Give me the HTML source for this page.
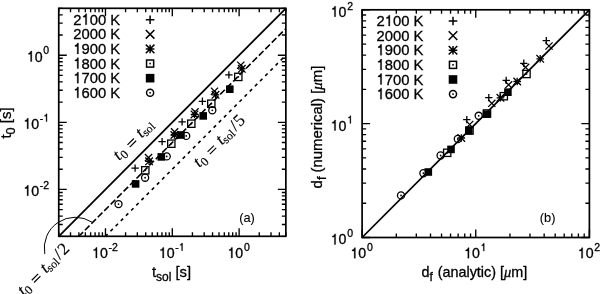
<!DOCTYPE html><html><head><meta charset="utf-8"><style>html,body{margin:0;padding:0;background:#fff;width:600px;height:294px;overflow:hidden}svg{display:block;will-change:transform}text{fill:#000;stroke:#000;stroke-width:0.3px}.one path{fill:#000;stroke:#000;stroke-width:0.3px;vector-effect:non-scaling-stroke}.ann text{stroke-width:0.15px}</style></head><body><svg width="600" height="294" viewBox="0 0 600 294" font-family="Liberation Sans, sans-serif">
<rect width="600" height="294" fill="#fff"/>
<line x1="58.75" y1="236.30" x2="285.85" y2="8.30" stroke="#000" stroke-width="1.75"/>
<line x1="78.87" y1="236.30" x2="285.85" y2="28.50" stroke="#000" stroke-width="1.6" stroke-dasharray="6.5 2.63" stroke-dashoffset="0.56"/>
<line x1="105.47" y1="236.30" x2="285.85" y2="55.20" stroke="#000" stroke-width="1.6" stroke-dasharray="3.3 4.01" stroke-dashoffset="0.2"/>
<line x1="362.10" y1="237.50" x2="589.40" y2="9.80" stroke="#000" stroke-width="1.75"/>
<path d="M131.40 168.10h7.4M135.10 164.40v7.4" stroke="#000" stroke-width="1.3" fill="none"/>
<path d="M158.40 141.60h7.4M162.10 137.90v7.4" stroke="#000" stroke-width="1.3" fill="none"/>
<path d="M178.40 121.90h7.4M182.10 118.20v7.4" stroke="#000" stroke-width="1.3" fill="none"/>
<path d="M198.70 101.30h7.4M202.40 97.60v7.4" stroke="#000" stroke-width="1.3" fill="none"/>
<path d="M225.20 74.90h7.4M228.90 71.20v7.4" stroke="#000" stroke-width="1.3" fill="none"/>
<path d="M144.90 154.00l7.2 7.2M144.90 161.20l7.2 -7.2" stroke="#000" stroke-width="1.3" fill="none"/>
<path d="M171.00 128.30l7.2 7.2M171.00 135.50l7.2 -7.2" stroke="#000" stroke-width="1.3" fill="none"/>
<path d="M191.40 108.20l7.2 7.2M191.40 115.40l7.2 -7.2" stroke="#000" stroke-width="1.3" fill="none"/>
<path d="M210.90 87.60l7.2 7.2M210.90 94.80l7.2 -7.2" stroke="#000" stroke-width="1.3" fill="none"/>
<path d="M237.20 61.60l7.2 7.2M237.20 68.80l7.2 -7.2" stroke="#000" stroke-width="1.3" fill="none"/>
<path d="M145.30 161.30h7.6M149.10 157.50v7.6M145.30 157.50l7.6 7.6M145.30 165.10l7.6 -7.6" stroke="#000" stroke-width="1.3" fill="none"/>
<path d="M170.60 135.00h7.6M174.40 131.20v7.6M170.60 131.20l7.6 7.6M170.60 138.80l7.6 -7.6" stroke="#000" stroke-width="1.3" fill="none"/>
<path d="M190.70 114.40h7.6M194.50 110.60v7.6M190.70 110.60l7.6 7.6M190.70 118.20l7.6 -7.6" stroke="#000" stroke-width="1.3" fill="none"/>
<path d="M211.70 94.80h7.6M215.50 91.00v7.6M211.70 91.00l7.6 7.6M211.70 98.60l7.6 -7.6" stroke="#000" stroke-width="1.3" fill="none"/>
<path d="M238.00 68.80h7.6M241.80 65.00v7.6M238.00 65.00l7.6 7.6M238.00 72.60l7.6 -7.6" stroke="#000" stroke-width="1.3" fill="none"/>
<rect x="141.65" y="166.65" width="7.30" height="7.30" fill="none" stroke="#000" stroke-width="1.3"/><rect x="144.50" y="169.50" width="1.6" height="1.6" fill="#000"/>
<rect x="167.65" y="140.05" width="7.30" height="7.30" fill="none" stroke="#000" stroke-width="1.3"/><rect x="170.50" y="142.90" width="1.6" height="1.6" fill="#000"/>
<rect x="187.65" y="120.05" width="7.30" height="7.30" fill="none" stroke="#000" stroke-width="1.3"/><rect x="190.50" y="122.90" width="1.6" height="1.6" fill="#000"/>
<rect x="207.65" y="100.05" width="7.30" height="7.30" fill="none" stroke="#000" stroke-width="1.3"/><rect x="210.50" y="102.90" width="1.6" height="1.6" fill="#000"/>
<rect x="234.65" y="73.25" width="7.30" height="7.30" fill="none" stroke="#000" stroke-width="1.3"/><rect x="237.50" y="76.10" width="1.6" height="1.6" fill="#000"/>
<rect x="131.80" y="180.10" width="7.60" height="7.60" fill="#000"/>
<rect x="157.50" y="153.10" width="7.60" height="7.60" fill="#000"/>
<rect x="177.20" y="131.20" width="7.60" height="7.60" fill="#000"/>
<rect x="199.40" y="112.10" width="7.60" height="7.60" fill="#000"/>
<rect x="226.00" y="85.40" width="7.60" height="7.60" fill="#000"/>
<circle cx="118.50" cy="204.10" r="3.55" fill="none" stroke="#000" stroke-width="1.3"/><circle cx="118.50" cy="204.10" r="0.9" fill="#000"/>
<circle cx="145.10" cy="177.70" r="3.55" fill="none" stroke="#000" stroke-width="1.3"/><circle cx="145.10" cy="177.70" r="0.9" fill="#000"/>
<circle cx="166.70" cy="156.40" r="3.55" fill="none" stroke="#000" stroke-width="1.3"/><circle cx="166.70" cy="156.40" r="0.9" fill="#000"/>
<circle cx="186.20" cy="135.90" r="3.55" fill="none" stroke="#000" stroke-width="1.3"/><circle cx="186.20" cy="135.90" r="0.9" fill="#000"/>
<circle cx="212.30" cy="110.30" r="3.55" fill="none" stroke="#000" stroke-width="1.3"/><circle cx="212.30" cy="110.30" r="0.9" fill="#000"/>
<path d="M463.10 119.60h7.4M466.80 115.90v7.4" stroke="#000" stroke-width="1.3" fill="none"/>
<path d="M485.10 97.60h7.4M488.80 93.90v7.4" stroke="#000" stroke-width="1.3" fill="none"/>
<path d="M502.50 80.40h7.4M506.20 76.70v7.4" stroke="#000" stroke-width="1.3" fill="none"/>
<path d="M520.10 63.30h7.4M523.80 59.60v7.4" stroke="#000" stroke-width="1.3" fill="none"/>
<path d="M542.60 40.70h7.4M546.30 37.00v7.4" stroke="#000" stroke-width="1.3" fill="none"/>
<path d="M466.10 120.90l7.2 7.2M466.10 128.10l7.2 -7.2" stroke="#000" stroke-width="1.3" fill="none"/>
<path d="M488.20 99.70l7.2 7.2M488.20 106.90l7.2 -7.2" stroke="#000" stroke-width="1.3" fill="none"/>
<path d="M505.00 81.20l7.2 7.2M505.00 88.40l7.2 -7.2" stroke="#000" stroke-width="1.3" fill="none"/>
<path d="M522.00 63.70l7.2 7.2M522.00 70.90l7.2 -7.2" stroke="#000" stroke-width="1.3" fill="none"/>
<path d="M545.40 42.40l7.2 7.2M545.40 49.60l7.2 -7.2" stroke="#000" stroke-width="1.3" fill="none"/>
<path d="M457.50 138.00h7.6M461.30 134.20v7.6M457.50 134.20l7.6 7.6M457.50 141.80l7.6 -7.6" stroke="#000" stroke-width="1.3" fill="none"/>
<path d="M496.60 97.80h7.6M500.40 94.00v7.6M496.60 94.00l7.6 7.6M496.60 101.60l7.6 -7.6" stroke="#000" stroke-width="1.3" fill="none"/>
<path d="M513.40 81.50h7.6M517.20 77.70v7.6M513.40 77.70l7.6 7.6M513.40 85.30l7.6 -7.6" stroke="#000" stroke-width="1.3" fill="none"/>
<path d="M536.40 58.80h7.6M540.20 55.00v7.6M536.40 55.00l7.6 7.6M536.40 62.60l7.6 -7.6" stroke="#000" stroke-width="1.3" fill="none"/>
<rect x="443.55" y="149.15" width="7.30" height="7.30" fill="none" stroke="#000" stroke-width="1.3"/><rect x="446.40" y="152.00" width="1.6" height="1.6" fill="#000"/>
<rect x="465.85" y="126.85" width="7.30" height="7.30" fill="none" stroke="#000" stroke-width="1.3"/><rect x="468.70" y="129.70" width="1.6" height="1.6" fill="#000"/>
<rect x="483.35" y="109.85" width="7.30" height="7.30" fill="none" stroke="#000" stroke-width="1.3"/><rect x="486.20" y="112.70" width="1.6" height="1.6" fill="#000"/>
<rect x="500.15" y="92.55" width="7.30" height="7.30" fill="none" stroke="#000" stroke-width="1.3"/><rect x="503.00" y="95.40" width="1.6" height="1.6" fill="#000"/>
<rect x="522.85" y="70.35" width="7.30" height="7.30" fill="none" stroke="#000" stroke-width="1.3"/><rect x="525.70" y="73.20" width="1.6" height="1.6" fill="#000"/>
<rect x="424.50" y="168.20" width="7.60" height="7.60" fill="#000"/>
<rect x="447.20" y="145.60" width="7.60" height="7.60" fill="#000"/>
<rect x="465.00" y="126.90" width="7.60" height="7.60" fill="#000"/>
<rect x="482.70" y="110.40" width="7.60" height="7.60" fill="#000"/>
<rect x="504.10" y="88.40" width="7.60" height="7.60" fill="#000"/>
<circle cx="401.00" cy="195.40" r="3.55" fill="none" stroke="#000" stroke-width="1.3"/><circle cx="401.00" cy="195.40" r="0.9" fill="#000"/>
<circle cx="423.40" cy="173.20" r="3.55" fill="none" stroke="#000" stroke-width="1.3"/><circle cx="423.40" cy="173.20" r="0.9" fill="#000"/>
<circle cx="440.60" cy="155.50" r="3.55" fill="none" stroke="#000" stroke-width="1.3"/><circle cx="440.60" cy="155.50" r="0.9" fill="#000"/>
<circle cx="457.80" cy="139.00" r="3.55" fill="none" stroke="#000" stroke-width="1.3"/><circle cx="457.80" cy="139.00" r="0.9" fill="#000"/>
<circle cx="478.70" cy="115.80" r="3.55" fill="none" stroke="#000" stroke-width="1.3"/><circle cx="478.70" cy="115.80" r="0.9" fill="#000"/>
<path d="M58.75 236.30v-4M58.75 8.30v4M58.75 236.30h4M285.85 236.30h-4M70.52 236.30v-4M70.52 8.30v4M58.75 224.48h4M285.85 224.48h-4M78.87 236.30v-4M78.87 8.30v4M58.75 216.10h4M285.85 216.10h-4M85.35 236.30v-4M85.35 8.30v4M58.75 209.60h4M285.85 209.60h-4M90.64 236.30v-4M90.64 8.30v4M58.75 204.29h4M285.85 204.29h-4M95.11 236.30v-4M95.11 8.30v4M58.75 199.79h4M285.85 199.79h-4M98.99 236.30v-4M98.99 8.30v4M58.75 195.90h4M285.85 195.90h-4M102.41 236.30v-4M102.41 8.30v4M58.75 192.47h4M285.85 192.47h-4M105.47 236.30v-8M105.47 8.30v8M58.75 189.40h8M285.85 189.40h-8M125.58 236.30v-4M125.58 8.30v4M58.75 169.20h4M285.85 169.20h-4M137.35 236.30v-4M137.35 8.30v4M58.75 157.38h4M285.85 157.38h-4M145.70 236.30v-4M145.70 8.30v4M58.75 149.00h4M285.85 149.00h-4M152.18 236.30v-4M152.18 8.30v4M58.75 142.50h4M285.85 142.50h-4M157.47 236.30v-4M157.47 8.30v4M58.75 137.19h4M285.85 137.19h-4M161.95 236.30v-4M161.95 8.30v4M58.75 132.69h4M285.85 132.69h-4M165.82 236.30v-4M165.82 8.30v4M58.75 128.80h4M285.85 128.80h-4M169.24 236.30v-4M169.24 8.30v4M58.75 125.37h4M285.85 125.37h-4M172.30 236.30v-8M172.30 8.30v8M58.75 122.30h8M285.85 122.30h-8M192.42 236.30v-4M192.42 8.30v4M58.75 102.10h4M285.85 102.10h-4M204.19 236.30v-4M204.19 8.30v4M58.75 90.29h4M285.85 90.29h-4M212.54 236.30v-4M212.54 8.30v4M58.75 81.90h4M285.85 81.90h-4M219.02 236.30v-4M219.02 8.30v4M58.75 75.40h4M285.85 75.40h-4M224.31 236.30v-4M224.31 8.30v4M58.75 70.09h4M285.85 70.09h-4M228.78 236.30v-4M228.78 8.30v4M58.75 65.59h4M285.85 65.59h-4M232.66 236.30v-4M232.66 8.30v4M58.75 61.70h4M285.85 61.70h-4M236.08 236.30v-4M236.08 8.30v4M58.75 58.27h4M285.85 58.27h-4M239.13 236.30v-8M239.13 8.30v8M58.75 55.20h8M285.85 55.20h-8M259.25 236.30v-4M259.25 8.30v4M58.75 35.00h4M285.85 35.00h-4M271.02 236.30v-4M271.02 8.30v4M58.75 23.19h4M285.85 23.19h-4M279.37 236.30v-4M279.37 8.30v4M58.75 14.80h4M285.85 14.80h-4M285.85 236.30v-4M285.85 8.30v4M58.75 8.30h4M285.85 8.30h-4" stroke="#000" stroke-width="1.35" fill="none"/>
<rect x="58.75" y="8.3" width="227.10" height="228.00" fill="none" stroke="#000" stroke-width="1.7"/>
<path d="M362.10 237.50v-8M362.10 9.80v8M362.10 237.50h8M589.40 237.50h-8M396.31 237.50v-4M396.31 9.80v4M362.10 203.23h4M589.40 203.23h-4M416.32 237.50v-4M416.32 9.80v4M362.10 183.18h4M589.40 183.18h-4M430.52 237.50v-4M430.52 9.80v4M362.10 168.96h4M589.40 168.96h-4M441.54 237.50v-4M441.54 9.80v4M362.10 157.92h4M589.40 157.92h-4M450.54 237.50v-4M450.54 9.80v4M362.10 148.91h4M589.40 148.91h-4M458.15 237.50v-4M458.15 9.80v4M362.10 141.29h4M589.40 141.29h-4M464.74 237.50v-4M464.74 9.80v4M362.10 134.68h4M589.40 134.68h-4M470.55 237.50v-4M470.55 9.80v4M362.10 128.86h4M589.40 128.86h-4M475.75 237.50v-8M475.75 9.80v8M362.10 123.65h8M589.40 123.65h-8M509.96 237.50v-4M509.96 9.80v4M362.10 89.38h4M589.40 89.38h-4M529.97 237.50v-4M529.97 9.80v4M362.10 69.33h4M589.40 69.33h-4M544.17 237.50v-4M544.17 9.80v4M362.10 55.11h4M589.40 55.11h-4M555.19 237.50v-4M555.19 9.80v4M362.10 44.07h4M589.40 44.07h-4M564.19 237.50v-4M564.19 9.80v4M362.10 35.06h4M589.40 35.06h-4M571.80 237.50v-4M571.80 9.80v4M362.10 27.44h4M589.40 27.44h-4M578.39 237.50v-4M578.39 9.80v4M362.10 20.83h4M589.40 20.83h-4M584.20 237.50v-4M584.20 9.80v4M362.10 15.01h4M589.40 15.01h-4M589.40 237.50v-8M589.40 9.80v8M362.10 9.80h8M589.40 9.80h-8" stroke="#000" stroke-width="1.35" fill="none"/>
<rect x="362.1" y="9.8" width="227.30" height="227.70" fill="none" stroke="#000" stroke-width="1.7"/>
<g transform="translate(120.20 24.75) scale(1 1.05)"><text><tspan font-size="14.8" x="-46.90" y="0.00">2 00 K</tspan></text><g class="one"><path transform="translate(-38.67 0.00) scale(0.01480 -0.01480)" d="M262 0H349V703H278C255 615 190 565 110 555V490H262Z"/></g></g>
<path d="M145.80 19.70h8.6M150.10 15.40v8.6" stroke="#000" stroke-width="1.5" fill="none"/>
<g transform="translate(120.20 39.37) scale(1 1.05)"><text><tspan font-size="14.8" x="-46.90" y="0.00">2000 K</tspan></text><g class="one"></g></g>
<path d="M145.80 30.02l8.6 8.6M145.80 38.62l8.6 -8.6" stroke="#000" stroke-width="1.5" fill="none"/>
<g transform="translate(120.20 53.99) scale(1 1.05)"><text><tspan font-size="14.8" x="-46.90" y="0.00"> 900 K</tspan></text><g class="one"><path transform="translate(-46.90 0.00) scale(0.01480 -0.01480)" d="M262 0H349V703H278C255 615 190 565 110 555V490H262Z"/></g></g>
<path d="M145.80 48.94h8.6M150.10 44.64v8.6M145.80 44.64l8.6 8.6M145.80 53.24l8.6 -8.6" stroke="#000" stroke-width="1.5" fill="none"/>
<g transform="translate(120.20 68.61) scale(1 1.05)"><text><tspan font-size="14.8" x="-46.90" y="0.00"> 800 K</tspan></text><g class="one"><path transform="translate(-46.90 0.00) scale(0.01480 -0.01480)" d="M262 0H349V703H278C255 615 190 565 110 555V490H262Z"/></g></g>
<rect x="146.55" y="60.01" width="7.10" height="7.10" fill="none" stroke="#000" stroke-width="1.5"/><rect x="149.30" y="62.76" width="1.6" height="1.6" fill="#000"/>
<g transform="translate(120.20 83.23) scale(1 1.05)"><text><tspan font-size="14.8" x="-46.90" y="0.00"> 700 K</tspan></text><g class="one"><path transform="translate(-46.90 0.00) scale(0.01480 -0.01480)" d="M262 0H349V703H278C255 615 190 565 110 555V490H262Z"/></g></g>
<rect x="145.80" y="73.88" width="8.60" height="8.60" fill="#000"/>
<g transform="translate(120.20 97.85) scale(1 1.05)"><text><tspan font-size="14.8" x="-46.90" y="0.00"> 600 K</tspan></text><g class="one"><path transform="translate(-46.90 0.00) scale(0.01480 -0.01480)" d="M262 0H349V703H278C255 615 190 565 110 555V490H262Z"/></g></g>
<circle cx="150.10" cy="92.80" r="3.55" fill="none" stroke="#000" stroke-width="1.5"/><circle cx="150.10" cy="92.80" r="0.9" fill="#000"/>
<g transform="translate(423.40 26.05) scale(1 1.05)"><text><tspan font-size="14.8" x="-46.90" y="0.00">2 00 K</tspan></text><g class="one"><path transform="translate(-38.67 0.00) scale(0.01480 -0.01480)" d="M262 0H349V703H278C255 615 190 565 110 555V490H262Z"/></g></g>
<path d="M448.70 21.00h8.6M453.00 16.70v8.6" stroke="#000" stroke-width="1.5" fill="none"/>
<g transform="translate(423.40 40.67) scale(1 1.05)"><text><tspan font-size="14.8" x="-46.90" y="0.00">2000 K</tspan></text><g class="one"></g></g>
<path d="M448.70 31.32l8.6 8.6M448.70 39.92l8.6 -8.6" stroke="#000" stroke-width="1.5" fill="none"/>
<g transform="translate(423.40 55.29) scale(1 1.05)"><text><tspan font-size="14.8" x="-46.90" y="0.00"> 900 K</tspan></text><g class="one"><path transform="translate(-46.90 0.00) scale(0.01480 -0.01480)" d="M262 0H349V703H278C255 615 190 565 110 555V490H262Z"/></g></g>
<path d="M448.70 50.24h8.6M453.00 45.94v8.6M448.70 45.94l8.6 8.6M448.70 54.54l8.6 -8.6" stroke="#000" stroke-width="1.5" fill="none"/>
<g transform="translate(423.40 69.91) scale(1 1.05)"><text><tspan font-size="14.8" x="-46.90" y="0.00"> 800 K</tspan></text><g class="one"><path transform="translate(-46.90 0.00) scale(0.01480 -0.01480)" d="M262 0H349V703H278C255 615 190 565 110 555V490H262Z"/></g></g>
<rect x="449.45" y="61.31" width="7.10" height="7.10" fill="none" stroke="#000" stroke-width="1.5"/><rect x="452.20" y="64.06" width="1.6" height="1.6" fill="#000"/>
<g transform="translate(423.40 84.53) scale(1 1.05)"><text><tspan font-size="14.8" x="-46.90" y="0.00"> 700 K</tspan></text><g class="one"><path transform="translate(-46.90 0.00) scale(0.01480 -0.01480)" d="M262 0H349V703H278C255 615 190 565 110 555V490H262Z"/></g></g>
<rect x="448.70" y="75.18" width="8.60" height="8.60" fill="#000"/>
<g transform="translate(423.40 99.15) scale(1 1.05)"><text><tspan font-size="14.8" x="-46.90" y="0.00"> 600 K</tspan></text><g class="one"><path transform="translate(-46.90 0.00) scale(0.01480 -0.01480)" d="M262 0H349V703H278C255 615 190 565 110 555V490H262Z"/></g></g>
<circle cx="453.00" cy="94.10" r="3.55" fill="none" stroke="#000" stroke-width="1.5"/><circle cx="453.00" cy="94.10" r="0.9" fill="#000"/>
<g transform="translate(104.97 257.90) scale(1 1.05)"><text><tspan font-size="14.2" x="-12.91" y="0.00"> 0</tspan><tspan font-size="10.5" x="3.58" y="-6.80">-2</tspan></text><g class="one"><path transform="translate(-12.91 0.00) scale(0.01420 -0.01420)" d="M262 0H349V703H278C255 615 190 565 110 555V490H262Z"/></g></g>
<g transform="translate(171.80 257.90) scale(1 1.05)"><text><tspan font-size="14.2" x="-12.91" y="0.00"> 0</tspan><tspan font-size="10.5" x="3.58" y="-6.80">- </tspan></text><g class="one"><path transform="translate(-12.91 0.00) scale(0.01420 -0.01420)" d="M262 0H349V703H278C255 615 190 565 110 555V490H262Z"/><path transform="translate(7.07 -6.80) scale(0.01050 -0.01050)" d="M262 0H349V703H278C255 615 190 565 110 555V490H262Z"/></g></g>
<g transform="translate(238.63 257.90) scale(1 1.05)"><text><tspan font-size="14.2" x="-11.16" y="0.00"> 0</tspan><tspan font-size="10.5" x="5.33" y="-6.80">0</tspan></text><g class="one"><path transform="translate(-11.16 0.00) scale(0.01420 -0.01420)" d="M262 0H349V703H278C255 615 190 565 110 555V490H262Z"/></g></g>
<g transform="translate(49.20 195.80) scale(1 1.05)"><text><tspan font-size="14.2" x="-25.82" y="0.00"> 0</tspan><tspan font-size="10.5" x="-9.33" y="-6.80">-2</tspan></text><g class="one"><path transform="translate(-25.82 0.00) scale(0.01420 -0.01420)" d="M262 0H349V703H278C255 615 190 565 110 555V490H262Z"/></g></g>
<g transform="translate(49.20 128.70) scale(1 1.05)"><text><tspan font-size="14.2" x="-25.82" y="0.00"> 0</tspan><tspan font-size="10.5" x="-9.33" y="-6.80">- </tspan></text><g class="one"><path transform="translate(-25.82 0.00) scale(0.01420 -0.01420)" d="M262 0H349V703H278C255 615 190 565 110 555V490H262Z"/><path transform="translate(-5.84 -6.80) scale(0.01050 -0.01050)" d="M262 0H349V703H278C255 615 190 565 110 555V490H262Z"/></g></g>
<g transform="translate(49.20 61.60) scale(1 1.05)"><text><tspan font-size="14.2" x="-22.33" y="0.00"> 0</tspan><tspan font-size="10.5" x="-5.84" y="-6.80">0</tspan></text><g class="one"><path transform="translate(-22.33 0.00) scale(0.01420 -0.01420)" d="M262 0H349V703H278C255 615 190 565 110 555V490H262Z"/></g></g>
<g transform="translate(361.60 258.20) scale(1 1.05)"><text><tspan font-size="14.2" x="-11.16" y="0.00"> 0</tspan><tspan font-size="10.5" x="5.33" y="-6.80">0</tspan></text><g class="one"><path transform="translate(-11.16 0.00) scale(0.01420 -0.01420)" d="M262 0H349V703H278C255 615 190 565 110 555V490H262Z"/></g></g>
<g transform="translate(475.25 258.20) scale(1 1.05)"><text><tspan font-size="14.2" x="-11.16" y="0.00"> 0</tspan><tspan font-size="10.5" x="5.33" y="-6.80"> </tspan></text><g class="one"><path transform="translate(-11.16 0.00) scale(0.01420 -0.01420)" d="M262 0H349V703H278C255 615 190 565 110 555V490H262Z"/><path transform="translate(5.33 -6.80) scale(0.01050 -0.01050)" d="M262 0H349V703H278C255 615 190 565 110 555V490H262Z"/></g></g>
<g transform="translate(588.90 258.20) scale(1 1.05)"><text><tspan font-size="14.2" x="-11.16" y="0.00"> 0</tspan><tspan font-size="10.5" x="5.33" y="-6.80">2</tspan></text><g class="one"><path transform="translate(-11.16 0.00) scale(0.01420 -0.01420)" d="M262 0H349V703H278C255 615 190 565 110 555V490H262Z"/></g></g>
<g transform="translate(353.00 244.40) scale(1 1.05)"><text><tspan font-size="14.2" x="-22.33" y="0.00"> 0</tspan><tspan font-size="10.5" x="-5.84" y="-6.80">0</tspan></text><g class="one"><path transform="translate(-22.33 0.00) scale(0.01420 -0.01420)" d="M262 0H349V703H278C255 615 190 565 110 555V490H262Z"/></g></g>
<g transform="translate(353.00 130.55) scale(1 1.05)"><text><tspan font-size="14.2" x="-22.33" y="0.00"> 0</tspan><tspan font-size="10.5" x="-5.84" y="-6.80"> </tspan></text><g class="one"><path transform="translate(-22.33 0.00) scale(0.01420 -0.01420)" d="M262 0H349V703H278C255 615 190 565 110 555V490H262Z"/><path transform="translate(-5.84 -6.80) scale(0.01050 -0.01050)" d="M262 0H349V703H278C255 615 190 565 110 555V490H262Z"/></g></g>
<g transform="translate(353.00 16.70) scale(1 1.05)"><text><tspan font-size="14.2" x="-22.33" y="0.00"> 0</tspan><tspan font-size="10.5" x="-5.84" y="-6.80">2</tspan></text><g class="one"><path transform="translate(-22.33 0.00) scale(0.01420 -0.01420)" d="M262 0H349V703H278C255 615 190 565 110 555V490H262Z"/></g></g>
<text transform="translate(171.50 276.80) scale(1 1.05)" text-anchor="middle" font-size="14.8">t<tspan font-size="12" dy="3.9">sol</tspan><tspan dy="-3.9"> [s]</tspan></text>
<text transform="translate(10.80 123.00) scale(1 1.05) rotate(-90)" text-anchor="middle" font-size="14.3">t<tspan font-size="12" dy="3.9">0</tspan><tspan dy="-3.9"> [s]</tspan></text>
<text transform="translate(474.40 277.00) scale(1 1.05)" text-anchor="middle" font-size="14.4">d<tspan font-size="12" dy="3.9">f</tspan><tspan dy="-3.9" dx="0.8"> (analytic) [</tspan><tspan font-family="Liberation Serif" font-style="italic">μ</tspan>m]</text>
<text transform="translate(322.30 127.00) scale(1 1.05) rotate(-90)" text-anchor="middle" font-size="14.2">d<tspan font-size="12" dy="3.9">f</tspan><tspan dy="-3.9"> (numerical) [</tspan><tspan font-family="Liberation Serif" font-style="italic">μ</tspan>m]</text>
<text transform="translate(247.00 222.40) scale(1 1.05)" text-anchor="middle" font-size="12.8" style="stroke-width:0.1px">(a)</text>
<text transform="translate(547.60 222.00) scale(1 1.05)" text-anchor="middle" font-size="12.8" style="stroke-width:0.1px">(b)</text>
<g transform="translate(131.80 142.80) rotate(-45)" font-family="Liberation Serif" text-anchor="middle" class="ann"><text x="-19.2" y="4" font-size="17.2" font-style="italic">t</text><text x="-13.6" y="7.1" font-size="12.3">0</text><path d="M-4.5 -1.6h9M-4.5 1.6h9" stroke="#000" stroke-width="1.15"/><text x="12.6" y="4" font-size="17.2" font-style="italic">t</text><text x="21.3" y="6.1" font-size="11.6">sol</text></g>
<g transform="translate(211.90 149.90) rotate(-45)" font-family="Liberation Serif" text-anchor="middle" class="ann"><text x="-19.2" y="4" font-size="17.2" font-style="italic">t</text><text x="-13.6" y="7.1" font-size="12.3">0</text><path d="M-4.5 -1.6h9M-4.5 1.6h9" stroke="#000" stroke-width="1.15"/><text x="12.6" y="4" font-size="17.2" font-style="italic">t</text><text x="21.3" y="6.1" font-size="11.6">sol</text><text x="32.3" y="4" font-size="17.2">/</text><text x="40.2" y="4" font-size="17.2">5</text></g>
<g transform="translate(36.10 278.20) rotate(-45)" font-family="Liberation Serif" text-anchor="middle" class="ann"><text x="-19.2" y="4" font-size="17.2" font-style="italic">t</text><text x="-13.6" y="7.1" font-size="12.3">0</text><path d="M-4.5 -1.6h9M-4.5 1.6h9" stroke="#000" stroke-width="1.15"/><text x="12.6" y="4" font-size="17.2" font-style="italic">t</text><text x="21.3" y="6.1" font-size="11.6">sol</text><text x="32.3" y="4" font-size="17.2">/</text><text x="40.2" y="4" font-size="17.2">2</text></g>
<path d="M44.78 253.93A30.97 30.97 0 0 1 92.19 222.31" stroke="#000" stroke-width="1" fill="none"/>
</svg></body></html>
